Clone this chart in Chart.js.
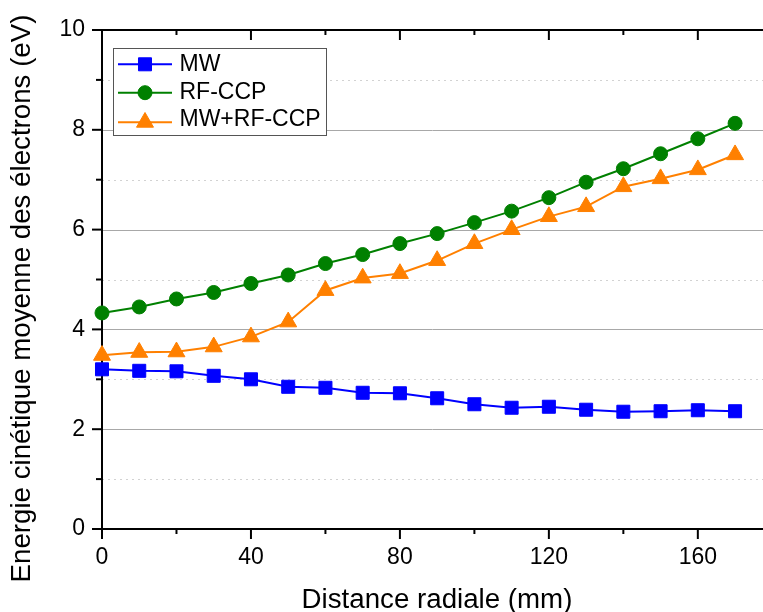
<!DOCTYPE html>
<html>
<head>
<meta charset="utf-8">
<script src="https://cdn.jsdelivr.net/npm/chart.js@4.4.1/dist/chart.umd.min.js"></script>
<style>
  html, body { margin: 0; padding: 0; background: #fff; }
</style>
</head>
<body>
<canvas id="energyChart" width="763" height="612"></canvas>
<script>
// data
const distances = [0, 10, 20, 30, 40, 50, 60, 70, 80, 90, 100, 110, 120, 130, 140, 150, 160, 170];
const mwValues  = [3.20, 3.17, 3.16, 3.07, 3.00, 2.85, 2.83, 2.73, 2.72, 2.62, 2.50, 2.43, 2.45, 2.39, 2.35, 2.36, 2.38, 2.36];
const rfValues  = [4.33, 4.45, 4.61, 4.74, 4.92, 5.09, 5.32, 5.50, 5.72, 5.92, 6.14, 6.37, 6.64, 6.95, 7.22, 7.52, 7.82, 8.13];
const mixValues = [3.48, 3.54, 3.55, 3.65, 3.85, 4.15, 4.78, 5.03, 5.12, 5.38, 5.72, 6.00, 6.26, 6.46, 6.86, 7.02, 7.20, 7.50];
const seriesLabels = ["MW", "RF-CCP", "MW+RF-CCP"];

const xTickValues = [0, 40, 80, 120, 160];
const xMinorTicks = [20, 60, 100, 140];
const yTickValues = [0, 2, 4, 6, 8, 10];
const yMinorTicks = [1, 3, 5, 7, 9];

const xTitle = "Distance radiale (mm)";
const yTitle = "Energie cinétique moyenne des électrons (eV)";

const FONT = "'Liberation Sans', Arial, sans-serif";

function makeSeries(label, values, color, style, radius){
    return {
        label: label,
        data: distances.map((d, i) => ({ x: d, y: values[i] })),
        borderColor: color,
        backgroundColor: color,
        borderWidth: 2,
        pointStyle: style,
        pointRadius: radius,
        pointBorderWidth: 1,
        pointBorderColor: color,
        pointBackgroundColor: color,
        tension: 0,
        clip: false
    };
}

function line(ctx, x1, y1, x2, y2){
    ctx.beginPath();
    ctx.moveTo(x1, y1);
    ctx.lineTo(x2, y2);
    ctx.stroke();
}

// grid, axis lines, tick marks and axis titles
const framePlugin = {
    id: "frame",
    beforeDatasetsDraw(chart){
        const { ctx, chartArea, scales } = chart;
        const { left, right, top, bottom } = chartArea;
        const x = scales.x, y = scales.y;
        ctx.save();

        ctx.lineWidth = 1;
        ctx.strokeStyle = "#d2d2d2";
        ctx.setLineDash([2, 4]);
        yMinorTicks.forEach(v => {
            const py = Math.round(y.getPixelForValue(v)) + 0.5;
            line(ctx, left, py, right, py);
        });
        ctx.setLineDash([]);
        ctx.strokeStyle = "#a8a8a8";
        yTickValues.filter(v => v > 0 && v < 10).forEach(v => {
            const py = Math.round(y.getPixelForValue(v)) + 0.5;
            line(ctx, left, py, right, py);
        });

        ctx.strokeStyle = "#000";
        ctx.lineWidth = 2;
        line(ctx, left, top, left, bottom + 1);
        line(ctx, left - 1, bottom, right, bottom);
        line(ctx, left - 1, top, right, top);

        yTickValues.forEach(v => {
            const py = y.getPixelForValue(v);
            line(ctx, left - 10, py, left, py);
        });
        yMinorTicks.forEach(v => {
            const py = y.getPixelForValue(v);
            line(ctx, left - 6, py, left, py);
        });
        xTickValues.forEach(v => {
            const px = x.getPixelForValue(v);
            line(ctx, px, bottom, px, bottom + 10);
            line(ctx, px, top, px, top + 10);
        });
        xMinorTicks.forEach(v => {
            const px = x.getPixelForValue(v);
            line(ctx, px, bottom, px, bottom + 5);
            line(ctx, px, top, px, top + 5);
        });

        ctx.fillStyle = "#000";
        ctx.font = "27.7px " + FONT;
        ctx.textAlign = "center";
        ctx.textBaseline = "middle";
        ctx.fillText(xTitle, 437, 600);

        ctx.translate(22.5, 298.5);
        ctx.rotate(-Math.PI / 2);
        ctx.fillText(yTitle, 0, 0);
        ctx.restore();
    }
};

// boxed legend inside the plot, top-left
const legendPlugin = {
    id: "boxLegend",
    afterDatasetsDraw(chart){
        const ctx = chart.ctx;
        const rows = [64.3, 92.7, 122.3];
        ctx.save();
        ctx.fillStyle = "#fff";
        ctx.fillRect(113.5, 48.5, 213, 87);
        ctx.strokeStyle = "#555";
        ctx.lineWidth = 1;
        ctx.strokeRect(113.5, 48.5, 213, 87);

        chart.data.datasets.forEach((ds, i) => {
            const yy = rows[i];
            ctx.strokeStyle = ds.borderColor;
            ctx.lineWidth = 2;
            line(ctx, 118, yy, 172, yy);
            ctx.fillStyle = ds.pointBackgroundColor;
            ctx.strokeStyle = ds.pointBorderColor;
            ctx.lineWidth = ds.pointBorderWidth;
            Chart.helpers.drawPoint(ctx, { pointStyle: ds.pointStyle, radius: ds.pointRadius, rotation: 0, borderWidth: ds.pointBorderWidth }, 145, yy);
            ctx.fillStyle = "#000";
            ctx.font = "23px " + FONT;
            ctx.textAlign = "left";
            ctx.textBaseline = "middle";
            ctx.fillText(ds.label, 179.5, i === 2 ? 120 : yy);
        });
        ctx.restore();
    }
};

new Chart(document.getElementById("energyChart"), {
    type: "line",
    data: {
        datasets: [
            makeSeries(seriesLabels[0], mwValues, "#0000ff", "rect", 9.2),
            makeSeries(seriesLabels[1], rfValues, "#008000", "circle", 7),
            makeSeries(seriesLabels[2], mixValues, "#ff8000", "triangle", 9.8)
        ]
    },
    options: {
        responsive: false,
        animation: false,
        // no room kept for marker overflow: the plot runs to the right edge
        layout: { autoPadding: false, padding: { top: 30, right: 0, bottom: 0, left: 0 } },
        plugins: {
            legend: { display: false },
            tooltip: { enabled: false }
        },
        scales: {
            x: {
                type: "linear",
                min: 0,
                max: 177.5,
                afterBuildTicks: s => { s.ticks = xTickValues.map(v => ({ value: v })); },
                afterFit: s => { s.height = 83; s.paddingLeft = 0; s.paddingRight = 0; },
                grid: { display: false, drawTicks: false },
                border: { display: false },
                ticks: { padding: 15, color: "#000", font: { size: 23, family: FONT }, maxRotation: 0, autoSkip: false }
            },
            y: {
                min: 0,
                max: 10,
                afterBuildTicks: s => { s.ticks = yTickValues.map(v => ({ value: v })); },
                afterFit: s => { s.width = 102; s.paddingTop = 0; s.paddingBottom = 0; },
                grid: { display: false, drawTicks: false },
                border: { display: false },
                ticks: { padding: 17, color: "#000", font: { size: 23, family: FONT } }
            }
        }
    },
    plugins: [framePlugin, legendPlugin]
});
</script>
</body>
</html>
